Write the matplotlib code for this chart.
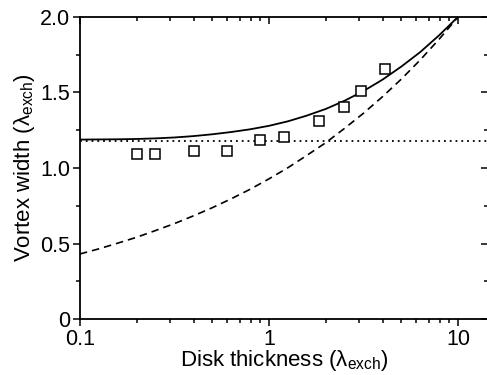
import numpy as np
import matplotlib
matplotlib.use("Agg")
import matplotlib.pyplot as plt
from matplotlib.ticker import LogLocator, FixedLocator, NullFormatter

plt.rcParams['font.family'] = ['Liberation Sans', 'DejaVu Sans']
plt.rcParams['mathtext.fontset'] = 'custom'
plt.rcParams['mathtext.rm'] = 'Liberation Sans'
plt.rcParams['mathtext.it'] = 'Liberation Sans:italic'

# measured vortex widths (open squares)
thickness = [0.2, 0.25, 0.4, 0.6, 0.9, 1.2, 1.85, 2.5, 3.05, 4.1]
width = [1.095, 1.095, 1.115, 1.115, 1.185, 1.207, 1.311, 1.406, 1.51, 1.654]

# curves at the same thickness values
curve_x = [0.1, 0.126, 0.158, 0.2, 0.251, 0.316, 0.398, 0.501, 0.631, 0.794,
           1.0, 1.26, 1.58, 2.0, 2.51, 3.16, 3.98, 5.01, 6.31, 7.94, 10.0]
solid_y = [1.188, 1.189, 1.190, 1.192, 1.196, 1.202, 1.211, 1.223, 1.238, 1.256,
           1.279, 1.309, 1.346, 1.391, 1.445, 1.509, 1.584, 1.671, 1.767, 1.878, 2.0]
dash_y = [0.431, 0.465, 0.502, 0.542, 0.586, 0.632, 0.683, 0.737, 0.796, 0.859,
          0.928, 1.002, 1.082, 1.168, 1.262, 1.362, 1.471, 1.588, 1.715, 1.852, 1.999]

# dotted horizontal level
dotted_level = 1.179

fig = plt.figure(figsize=(4.87, 3.75), dpi=100)
ax = fig.add_axes([0.164, 0.149, 0.838, 0.806])

ax.plot(curve_x, solid_y, color='black', lw=1.3)
ax.plot(curve_x, dash_y, color='black', lw=1.2, linestyle=(0, (4.5, 3)))
ax.axhline(dotted_level, color='black', lw=1.3, linestyle=(0, (1, 2.2)))
ax.plot(thickness, width, linestyle='none', marker='s', markersize=7.5,
        markerfacecolor='white', markeredgecolor='black', markeredgewidth=1.1, zorder=3)

ax.set_xscale('log')
ax.set_xlim(0.1, 14.4)
ax.set_ylim(0, 2.0)

ax.set_xticks([0.1, 1, 10])
ax.set_xticklabels(['0.1', '1', '10'])
ax.xaxis.set_minor_locator(LogLocator(base=10, subs=np.arange(2, 10)))
ax.xaxis.set_minor_formatter(NullFormatter())
ax.set_yticks([0, 0.5, 1.0, 1.5, 2.0])
ax.set_yticklabels(['0', '0.5', '1.0', '1.5', '2.0'])
ax.yaxis.set_minor_locator(FixedLocator([0.25, 0.75, 1.25, 1.75]))

ax.spines['right'].set_visible(False)
for s in ['left', 'bottom', 'top']:
    ax.spines[s].set_linewidth(1.3)

ax.tick_params(which='both', direction='out', width=1.1, labelsize=15.5, pad=2,
               top=True, right=True)
ax.tick_params(which='major', length=5)
ax.tick_params(which='minor', length=3)
# mirrored ticks on top and right point inwards
for t in ax.xaxis.get_major_ticks() + ax.xaxis.get_minor_ticks():
    t.tick2line.set_marker(3)
for t in ax.yaxis.get_major_ticks() + ax.yaxis.get_minor_ticks():
    t.tick2line.set_marker(0)

ax.set_xlabel('Disk thickness (λ$_{\\mathrm{exch}}$)', fontsize=16, labelpad=-1)
ax.set_ylabel('Vortex width (λ$_{\\mathrm{exch}}$)', fontsize=16, labelpad=2)

fig.savefig('out.png', dpi=100)
